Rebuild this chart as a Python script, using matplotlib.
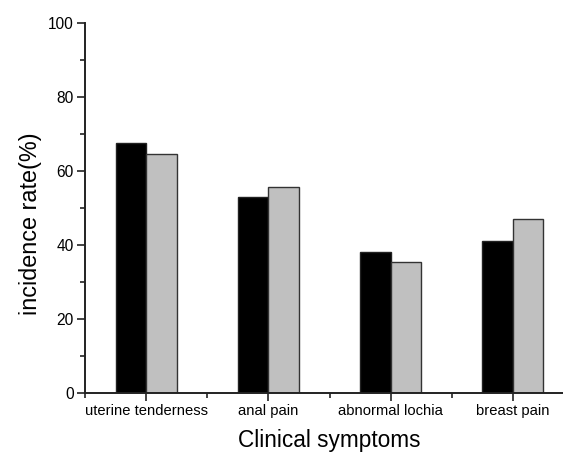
import matplotlib.pyplot as plt
from matplotlib.ticker import MultipleLocator, FixedLocator
import numpy as np

plt.rcParams['font.family'] = ['Liberation Sans', 'DejaVu Sans']

symptoms = ['uterine tenderness', 'anal pain', 'abnormal lochia', 'breast pain']
group_a = [67.6, 52.9, 38.2, 41.2]
group_b = [64.7, 55.8, 35.3, 47.0]

x = np.arange(1, len(symptoms) + 1)
w = 0.25

fig = plt.figure(figsize=(5.63, 4.53), dpi=100)
ax = fig.add_axes([85 / 563, 60 / 453, 489 / 563, 370 / 453])

ax.bar(x - w / 2, group_a, w, color='black', edgecolor='#222222', linewidth=1)
ax.bar(x + w / 2, group_b, w, color='#c0c0c0', edgecolor='#333333', linewidth=1)

ax.set_xlim(0.5, 4.5)
ax.set_ylim(0, 100)
ax.set_xticks(x)
ax.set_xticklabels(symptoms, fontsize=10.6)
ax.xaxis.set_minor_locator(FixedLocator([0.5, 1.5, 2.5, 3.5, 4.5]))
ax.yaxis.set_major_locator(MultipleLocator(20))
ax.yaxis.set_minor_locator(MultipleLocator(10))
ax.tick_params(axis='y', labelsize=11.2)

for s in ['top', 'right']:
    ax.spines[s].set_visible(False)
for s in ['left', 'bottom']:
    ax.spines[s].set_linewidth(1.4)
    ax.spines[s].set_color('#222222')

ax.tick_params(which='major', direction='out', length=6, width=1.2, color='#222222', pad=2)
ax.tick_params(which='minor', direction='out', length=3.5, width=1.2, color='#222222')

ax.set_xlabel('Clinical symptoms', fontsize=16.3, labelpad=8)
ax.set_ylabel('incidence rate(%)', fontsize=16.8)
ax.yaxis.set_label_coords(-0.087, 0.457)

fig.savefig('out.png', dpi=100)
